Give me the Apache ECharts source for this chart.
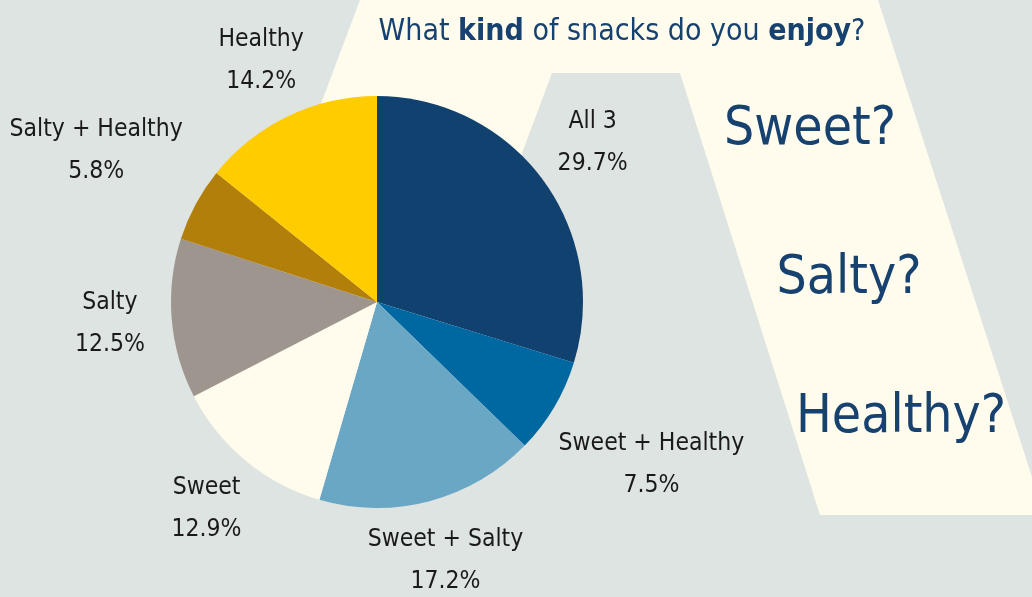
<!DOCTYPE html>
<html><head><meta charset="utf-8">
<script src="https://cdn.jsdelivr.net/npm/echarts@6/dist/echarts.min.js"></script>
<style>html,body{margin:0;padding:0;background:#dee4e1}#c{width:1032px;height:597px}</style>
</head><body><div id="c"></div>
<script>
const categories = ['All 3', 'Sweet + Healthy', 'Sweet + Salty', 'Sweet', 'Salty', 'Salty + Healthy', 'Healthy'];
const shares = [29.7, 7.5, 17.2, 12.9, 12.5, 5.8, 14.2];
const sliceColors = ['#10416f', '#0068a0', '#69a7c4', '#fffcee', '#9e958f', '#b27f0a', '#ffcc00'];
const questions = ['Sweet?', 'Salty?', 'Healthy?'];
const titleParts = ['What ', 'kind', ' of snacks do you ', 'enjoy', '?'];

const FONT = '"Liberation Sans Narrow","DejaVu Sans Condensed","Roboto",sans-serif';
const NAVY = '#17426f';
const CENTER = [377, 302];
const R = 206;

const chart = echarts.init(document.getElementById('c'), null, {renderer: 'canvas'});

const pieData = categories.map((n, i) => ({name: n, value: shares[i], itemStyle: {color: sliceColors[i]}}));
const labelData = (near) => categories.map((n, i) => ({
  name: n, value: shares[i],
  label: {show: near ? shares[i] >= 10 : shares[i] < 10}
}));
const labelRing = (outer, near) => ({
  type: 'pie', center: CENTER, radius: [R, outer], startAngle: 90, clockwise: true,
  silent: true, avoidLabelOverlap: false, z: 3,
  itemStyle: {color: 'rgba(0,0,0,0)', borderWidth: 0},
  label: {position: 'inside', formatter: '{b}\n{c}%', fontFamily: FONT, fontSize: 24.5,
          lineHeight: 42, color: '#1a1a1a', align: 'center'},
  labelLine: {show: false},
  emphasis: {disabled: true},
  data: labelData(near)
});

const qPos = [[810, 130], [849, 279], [901, 418]];

chart.setOption({
  backgroundColor: '#dee4e1',
  animation: false,
  graphic: [
    {type: 'polygon', z: 0, silent: true,
     shape: {points: [[360, 0], [878, 0], [1032, 477], [1032, 515], [820, 515], [680, 73], [552, 73], [437, 380], [217, 380]]},
     style: {fill: '#fffcee'}},
    {type: 'text', z: 10, x: 622, y: 32,
     style: {
       text: titleParts.map((p, i) => (i % 2 === 1 ? '{b|' + p + '}' : '{n|' + p + '}')).join(''),
       align: 'center', verticalAlign: 'middle',
       rich: {
         n: {fontFamily: FONT, fontSize: 30, fill: NAVY},
         b: {fontFamily: FONT, fontSize: 30, fontWeight: 'bold', fill: NAVY}
       }
     }},
    ...questions.map((q, i) => ({
      type: 'text', z: 10, x: qPos[i][0], y: qPos[i][1],
      style: {text: q, fontFamily: FONT, fontSize: 53, fill: NAVY, align: 'center', verticalAlign: 'middle'}
    }))
  ],
  series: [
    {type: 'pie', center: CENTER, radius: R, startAngle: 90, clockwise: true, z: 2,
     silent: true, label: {show: false}, labelLine: {show: false},
     itemStyle: {borderWidth: 0}, emphasis: {disabled: true}, data: pieData},
    labelRing(324, true),
    labelRing(426, false)
  ]
});
</script></body></html>
